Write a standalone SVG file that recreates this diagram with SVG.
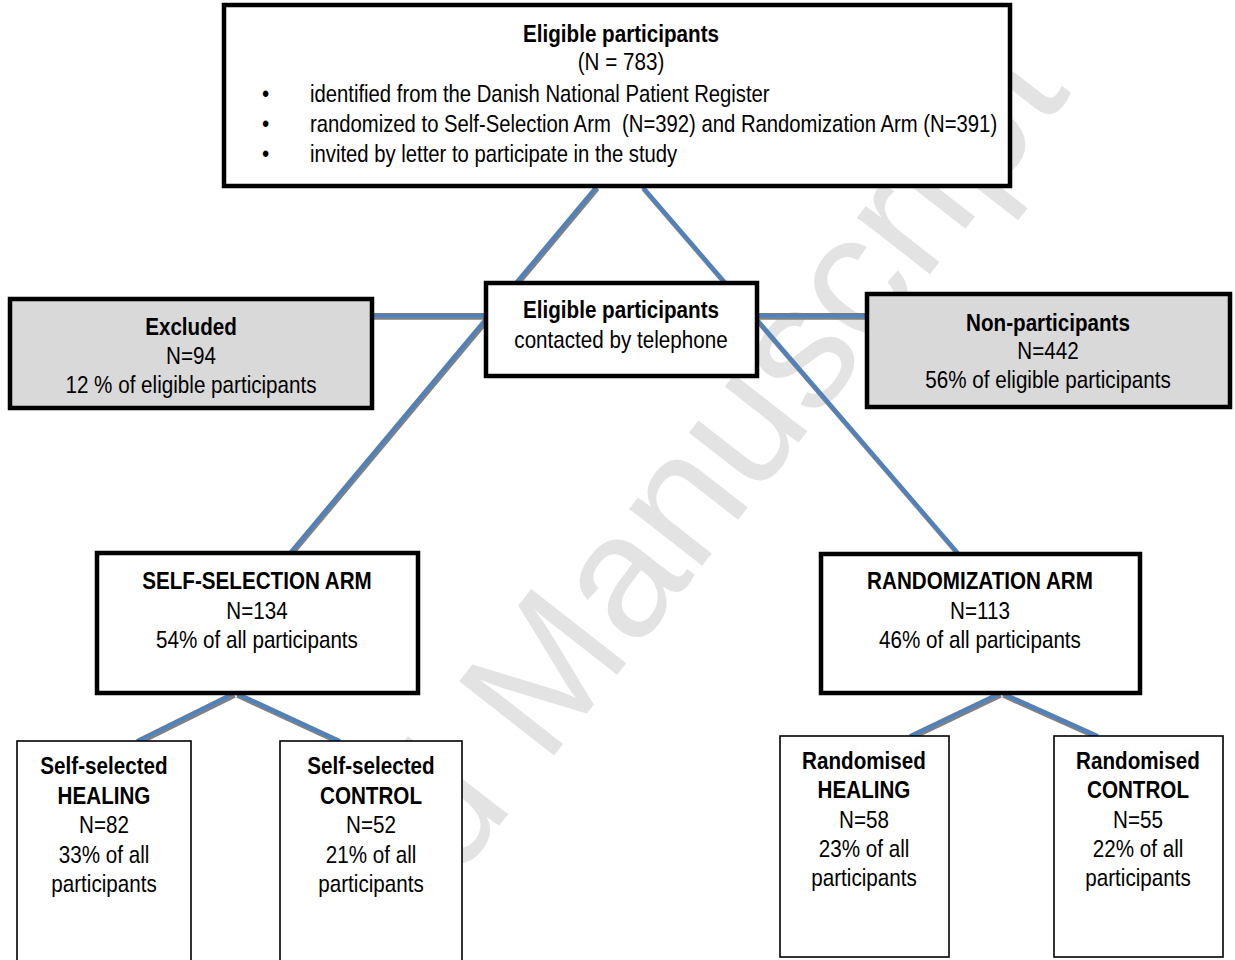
<svg xmlns="http://www.w3.org/2000/svg" width="1235" height="960" viewBox="0 0 1235 960">
<style>
text{font-family:"Liberation Sans",Arial,sans-serif;font-size:24px;fill:#000}
.c{text-anchor:middle}
.b{font-weight:bold}
.thick{fill:#fff;stroke:#000;stroke-width:4.5}
.grey{fill:#d9d9d9;stroke:#000;stroke-width:4.5}
.thin{fill:#fff;stroke:#000;stroke-width:1.6}
.shadow{fill:none;stroke:#808080;stroke-width:3.5}
.blue{fill:none;stroke:#4f81bd;stroke-width:4}
.wm{font-family:"Liberation Sans",Arial,sans-serif;font-size:175px;fill:#e3e3e3}
</style>
<rect width="1235" height="960" fill="#fff"/>
<text class="wm" transform="translate(66,1380) rotate(-52)">Accepted Manuscript</text>
<g id="connectors">
<g transform="translate(1,3)" class="shadow">
<line x1="597" y1="186" x2="290" y2="553"/>
<line x1="642" y1="186" x2="958" y2="553"/>
<line x1="372" y1="315" x2="867" y2="315"/>
<line x1="234" y1="693" x2="137" y2="741"/>
<line x1="236" y1="693" x2="340" y2="741"/>
<line x1="1000" y1="693" x2="910" y2="736"/>
<line x1="1002" y1="693" x2="1098" y2="736"/>
</g>
<g class="blue">
<line x1="597" y1="186" x2="290" y2="553"/>
<line x1="642" y1="186" x2="958" y2="553"/>
<line x1="372" y1="315" x2="867" y2="315"/>
<line x1="234" y1="693" x2="137" y2="741"/>
<line x1="236" y1="693" x2="340" y2="741"/>
<line x1="1000" y1="693" x2="910" y2="736"/>
<line x1="1002" y1="693" x2="1098" y2="736"/>
</g>
</g>
<g id="eligible">
<rect class="thick" x="224" y="5" width="786" height="181"/>
<text class="c b" transform="translate(621 42) scale(.86 1)">Eligible participants</text>
<text class="c" transform="translate(621 70) scale(.86 1)">(N = 783)</text>
<text transform="translate(262 102) scale(.86 1)">•</text>
<text transform="translate(310 102) scale(.845 1)">identified from the Danish National Patient Register</text>
<text transform="translate(262 132) scale(.86 1)">•</text>
<text transform="translate(310 132) scale(.845 1)" xml:space="preserve">randomized to Self-Selection Arm  (N=392) and Randomization Arm (N=391)</text>
<text transform="translate(262 162) scale(.86 1)">•</text>
<text transform="translate(310 162) scale(.845 1)">invited by letter to participate in the study</text>
</g>
<g id="contacted">
<rect class="thick" x="486" y="283" width="271" height="93"/>
<text class="c b" transform="translate(621 318) scale(.86 1)">Eligible participants</text>
<text class="c" transform="translate(621 348) scale(.86 1)">contacted by telephone</text>
</g>
<g id="excluded">
<rect class="grey" x="10" y="299" width="362" height="109"/>
<text class="c b" transform="translate(191 335) scale(.86 1)">Excluded</text>
<text class="c" transform="translate(191 364) scale(.86 1)">N=94</text>
<text class="c" transform="translate(191 393) scale(.86 1)">12 % of eligible participants</text>
</g>
<g id="nonparticipants">
<rect class="grey" x="867" y="294" width="363" height="113"/>
<text class="c b" transform="translate(1048 331) scale(.86 1)">Non-participants</text>
<text class="c" transform="translate(1048 359) scale(.86 1)">N=442</text>
<text class="c" transform="translate(1048 388) scale(.86 1)">56% of eligible participants</text>
</g>
<g id="selfselection">
<rect class="thick" x="97" y="553" width="321" height="140"/>
<text class="c b" transform="translate(257 589) scale(.86 1)">SELF-SELECTION ARM</text>
<text class="c" transform="translate(257 619) scale(.86 1)">N=134</text>
<text class="c" transform="translate(257 648) scale(.86 1)">54% of all participants</text>
</g>
<g id="randomization">
<rect class="thick" x="821" y="554" width="319" height="139"/>
<text class="c b" transform="translate(980 589) scale(.86 1)">RANDOMIZATION ARM</text>
<text class="c" transform="translate(980 619) scale(.86 1)">N=113</text>
<text class="c" transform="translate(980 648) scale(.86 1)">46% of all participants</text>
</g>
<g id="ss-healing">
<rect class="thin" x="17" y="741" width="174" height="230"/>
<text class="c b" transform="translate(104 774) scale(.86 1)">Self-selected</text>
<text class="c b" transform="translate(104 804) scale(.86 1)">HEALING</text>
<text class="c" transform="translate(104 833) scale(.86 1)">N=82</text>
<text class="c" transform="translate(104 863) scale(.86 1)">33% of all</text>
<text class="c" transform="translate(104 892) scale(.86 1)">participants</text>
</g>
<g id="ss-control">
<rect class="thin" x="280" y="741" width="182" height="230"/>
<text class="c b" transform="translate(371 774) scale(.86 1)">Self-selected</text>
<text class="c b" transform="translate(371 804) scale(.86 1)">CONTROL</text>
<text class="c" transform="translate(371 833) scale(.86 1)">N=52</text>
<text class="c" transform="translate(371 863) scale(.86 1)">21% of all</text>
<text class="c" transform="translate(371 892) scale(.86 1)">participants</text>
</g>
<g id="r-healing">
<rect class="thin" x="780" y="736" width="169" height="221"/>
<text class="c b" transform="translate(864 769) scale(.86 1)">Randomised</text>
<text class="c b" transform="translate(864 798) scale(.86 1)">HEALING</text>
<text class="c" transform="translate(864 828) scale(.86 1)">N=58</text>
<text class="c" transform="translate(864 857) scale(.86 1)">23% of all</text>
<text class="c" transform="translate(864 886) scale(.86 1)">participants</text>
</g>
<g id="r-control">
<rect class="thin" x="1054" y="736" width="169" height="221"/>
<text class="c b" transform="translate(1138 769) scale(.86 1)">Randomised</text>
<text class="c b" transform="translate(1138 798) scale(.86 1)">CONTROL</text>
<text class="c" transform="translate(1138 828) scale(.86 1)">N=55</text>
<text class="c" transform="translate(1138 857) scale(.86 1)">22% of all</text>
<text class="c" transform="translate(1138 886) scale(.86 1)">participants</text>
</g>
</svg>
